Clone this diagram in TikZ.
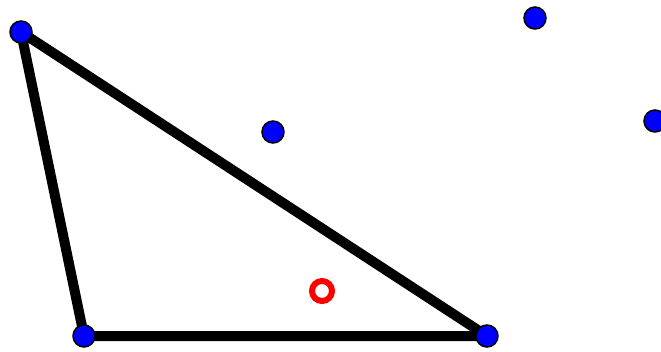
\documentclass[tikz,border=0pt]{standalone}
\usepackage{tikz}
\usetikzlibrary{positioning}

\begin{document}
\begin{tikzpicture}[x=1pt,y=-1pt,
        vertex/.style={circle,draw=black,line width=1.5pt,fill=blue,minimum size=22pt,inner sep=0pt},
        ring/.style={circle,draw=red,line width=6pt,fill=white,minimum size=20pt,inner sep=0pt}]
        \useasboundingbox (0,0) rectangle (661,351);
        \coordinate (A) at (21,32);
        \coordinate (B) at (84,336);
        \coordinate (C) at (487,336);
        \draw[line width=10pt,line join=round] (A) -- (B) -- (C) -- cycle;
        \node[vertex] (a) at (A) {};
        \node[vertex] (b) at (B) {};
        \node[vertex] (c) at (C) {};
        \node[vertex] (p) at (273,132) {};
        \node[vertex] (q) at (535,18) {};
        \node[vertex] (r) at (655,121) {};
        \node[ring] (o) at (322,291) {};
    \end{tikzpicture}
\end{document}
